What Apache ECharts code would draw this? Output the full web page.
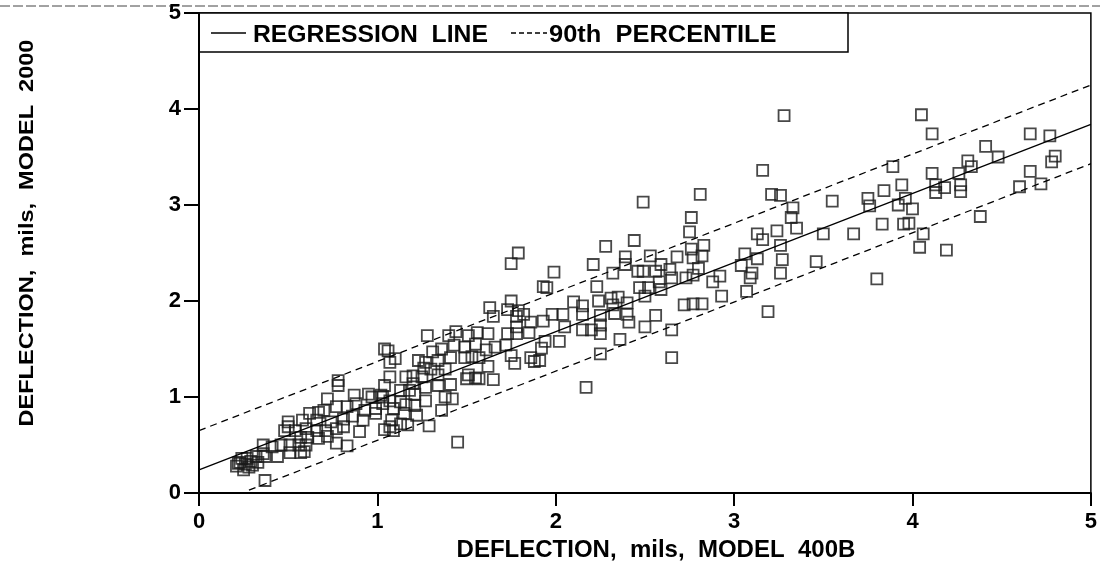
<!DOCTYPE html>
<html>
<head>
<meta charset="utf-8">
<script src="https://cdn.jsdelivr.net/npm/echarts@6/dist/echarts.min.js"></script>
<style>
html,body{margin:0;padding:0;background:#fff;}
#chart{width:1100px;height:569px;}
</style>
</head>
<body>
<div id="chart"></div>
<script>
// Axis ticks
const xTicks = [0, 1, 2, 3, 4, 5];
const yTicks = [0, 1, 2, 3, 4, 5];

// Legend labels
const legendLabels = ['REGRESSION  LINE', '90th  PERCENTILE'];

// Regression line and 90th percentile bounds (endpoints)
const regressionLine = [[0, 0.24], [5, 3.84]];
const upperPercentile = [[0, 0.65], [5, 4.25]];
const lowerPercentile = [[0.28, 0.03], [5, 3.43]];

// Observations: [Model 400B deflection, Model 2000 deflection] (mils)
const points = [
  [4.05,3.94],[4.11,3.74],[4.66,3.74],[4.77,3.72],[4.41,3.61],[4.48,3.50],[4.31,3.46],[4.33,3.40],
  [4.80,3.51],[4.78,3.45],[4.26,3.33],[4.11,3.33],[4.66,3.35],[3.89,3.40],[3.94,3.21],[4.13,3.21],
  [4.18,3.18],[4.13,3.13],[4.27,3.21],[4.27,3.14],[4.60,3.19],[4.72,3.22],[3.84,3.15],[3.96,3.07],
  [3.92,3.00],[4.00,2.96],[3.83,2.80],[3.95,2.80],[3.98,2.81],[4.38,2.88],[4.06,2.70],[4.04,2.56],
  [4.19,2.53],
  [3.28,3.93],[3.16,3.36],[3.21,3.11],[3.26,3.10],[3.33,2.97],[3.32,2.87],[3.35,2.76],[3.55,3.04],
  [3.75,3.07],[3.76,2.99],[3.13,2.70],[3.16,2.64],[3.24,2.73],[3.50,2.70],[3.67,2.70],[3.26,2.58],
  [3.06,2.49],[3.13,2.44],[3.27,2.43],[3.46,2.41],[3.04,2.37],[3.09,2.24],[3.10,2.29],[3.26,2.29],
  [2.92,2.26],[3.07,2.10],[2.93,2.05],[3.19,1.89],[3.80,2.23],
  [2.81,3.11],[2.49,3.03],[2.76,2.87],[2.75,2.72],[2.44,2.63],[2.28,2.57],[2.83,2.58],[2.76,2.54],
  [2.82,2.47],[2.77,2.45],[2.68,2.46],[2.53,2.47],[2.39,2.46],[2.39,2.38],[2.21,2.38],[1.99,2.30],
  [2.32,2.29],[2.46,2.31],[2.49,2.31],[2.56,2.31],[2.59,2.38],[2.64,2.33],[2.65,2.24],[2.58,2.20],
  [2.59,2.12],[2.47,2.14],[2.52,2.14],[2.50,2.05],[2.73,2.24],[2.77,2.27],[2.80,2.34],[2.88,2.20],
  [2.72,1.96],[2.77,1.97],[2.82,1.97],[2.23,2.15],[1.95,2.14],[1.93,2.15],[2.31,2.03],[2.35,2.04],
  [2.40,1.98],[2.24,2.00],[2.15,1.95],[2.10,1.99],[2.32,1.96],[2.33,1.87],[2.40,1.86],[2.41,1.78],
  [2.25,1.85],[2.25,1.75],[2.15,1.86],[2.04,1.86],[1.98,1.86],[1.93,1.79],[2.05,1.73],[2.15,1.70],
  [2.20,1.70],[2.25,1.66],[2.56,1.85],[2.50,1.73],[2.65,1.70],[2.36,1.60],[1.94,1.58],[2.02,1.58],
  [1.92,1.51],[1.91,1.38],[2.25,1.45],[2.65,1.41],[2.17,1.10],
  [1.79,2.50],[1.75,2.39],[1.75,2.00],[1.63,1.93],[1.65,1.84],[1.73,1.91],[1.79,1.90],[1.78,1.84],
  [1.82,1.86],[1.86,1.78],[1.78,1.73],[1.85,1.67],[1.73,1.66],[1.78,1.66],[1.28,1.64],[1.40,1.64],
  [1.44,1.68],[1.51,1.64],[1.56,1.67],[1.62,1.66],[1.31,1.47],[1.36,1.50],[1.43,1.54],[1.49,1.52],
  [1.55,1.55],[1.61,1.49],[1.66,1.52],[1.41,1.41],[1.49,1.41],[1.53,1.42],[1.57,1.41],[1.23,1.38],
  [1.27,1.36],[1.34,1.38],[1.62,1.32],[1.72,1.54],[1.75,1.43],[1.77,1.35],[1.86,1.41],[1.88,1.37],
  [1.26,1.30],[1.30,1.29],[1.38,1.29],[1.20,1.22],[1.25,1.21],[1.34,1.23],[1.51,1.23],[1.55,1.20],
  [1.57,1.19],[1.65,1.18],[1.50,1.19],[1.34,1.12],[1.41,1.13],[1.27,1.10],[1.38,1.00],[1.42,0.98],
  [1.27,0.96],[1.36,0.86],[1.29,0.70],[1.45,0.53],[1.06,1.48],[1.10,1.40],[1.04,1.50],[1.07,1.36],
  [1.07,1.21],[1.16,1.21],[1.20,1.14],[1.04,1.12],[1.13,1.07],[1.18,1.07],[1.21,1.03],[1.03,1.00],
  [1.07,0.96],[1.13,0.95],[1.16,0.92],[1.21,0.91],[1.09,0.88],[1.15,0.83],[1.22,0.81],[1.08,0.76],
  [1.13,0.72],[1.07,0.69],[1.17,0.71],
  [0.78,1.17],[0.78,1.12],[0.72,0.98],[0.77,0.90],[0.70,0.86],[0.83,0.90],[0.87,1.02],[0.95,1.03],
  [0.97,1.00],[1.02,1.02],[0.88,0.93],[0.93,0.86],[0.99,0.88],[1.03,0.93],[0.81,0.77],[0.86,0.80],
  [0.92,0.76],[0.99,0.83],[1.04,0.66],[0.90,0.64],[1.09,0.65],[0.66,0.76],[0.74,0.74],[0.50,0.74],
  [0.58,0.76],[0.48,0.65],[0.54,0.65],[0.60,0.67],[0.66,0.65],[0.71,0.65],[0.77,0.67],[0.81,0.69],
  [0.57,0.58],[0.61,0.58],[0.67,0.57],[0.72,0.59],[0.77,0.52],[0.83,0.49],[0.46,0.50],[0.51,0.50],
  [0.56,0.50],[0.60,0.50],[0.51,0.42],[0.57,0.42],[0.59,0.43],[0.41,0.48],[0.36,0.50],[0.36,0.41],
  [0.44,0.38],[0.32,0.38],[0.27,0.36],[0.23,0.32],[0.30,0.29],[0.25,0.24],[0.22,0.31],[0.37,0.38],
  [0.37,0.13],[0.67,0.84],[0.50,0.69],[0.62,0.83],
  [0.21,0.28],[0.26,0.30],[0.29,0.33],[0.24,0.36],[0.33,0.32],[0.28,0.27]
];

const FONT = 'Liberation Sans, Arial, sans-serif';
const chart = echarts.init(document.getElementById('chart'), null, {renderer: 'canvas'});

const option = {
  backgroundColor: '#ffffff',
  animation: false,
  grid: {
    left: 199, right: 8, top: 13, bottom: 76,
    show: true, borderColor: '#000', borderWidth: 1.5, backgroundColor: 'transparent'
  },
  legend: {show: false},
  xAxis: {
    type: 'value', min: xTicks[0], max: xTicks[xTicks.length - 1], interval: 1,
    name: 'DEFLECTION,  mils,  MODEL  400B',
    nameLocation: 'middle', nameGap: 43,
    nameTextStyle: {fontFamily: FONT, fontSize: 24, fontWeight: 'bold', color: '#000', padding: [0, 0, 0, 22]},
    axisLine: {show: true, onZero: false, lineStyle: {color: '#000', width: 2}},
    axisTick: {show: true, inside: false, length: 13, lineStyle: {color: '#000', width: 2}},
    axisLabel: {fontFamily: FONT, fontSize: 22, fontWeight: 'bold', color: '#000', margin: 18,
      formatter: v => xTicks.indexOf(v) >= 0 ? String(v) : ''},
    splitLine: {show: false}
  },
  yAxis: {
    type: 'value', min: yTicks[0], max: yTicks[yTicks.length - 1], interval: 1,
    axisLine: {show: true, onZero: false, lineStyle: {color: '#000', width: 2}},
    axisTick: {show: true, inside: false, length: 15, lineStyle: {color: '#000', width: 2}},
    axisLabel: {fontFamily: FONT, fontSize: 22, fontWeight: 'bold', color: '#000', margin: 18,
      formatter: v => yTicks.indexOf(v) >= 0 ? String(v) : ''},
    splitLine: {show: false}
  },
  graphic: [
    {
      type: 'text', x: 27, y: 233, rotation: Math.PI / 2, scaleX: 1.12,
      style: {
        text: 'DEFLECTION,  mils,  MODEL  2000',
        font: 'bold 21px ' + FONT, fill: '#000',
        textAlign: 'center', textVerticalAlign: 'middle'
      }
    },
    {
      type: 'line', shape: {x1: 0, y1: 6, x2: 1100, y2: 6},
      style: {stroke: '#444', lineWidth: 1, lineDash: [10, 3]}, silent: true
    },
    {
      type: 'group', z: 100,
      children: [
        {type: 'rect', shape: {x: 199, y: 13, width: 649, height: 39},
          style: {fill: '#fff', stroke: '#000', lineWidth: 1.5}},
        {type: 'line', shape: {x1: 211, y1: 33, x2: 246, y2: 33},
          style: {stroke: '#000', lineWidth: 1.5}},
        {type: 'text', x: 253, y: 35, scaleX: 1.03,
          style: {text: legendLabels[0], font: 'bold 24px ' + FONT, fill: '#000', textVerticalAlign: 'middle'}},
        {type: 'line', shape: {x1: 511, y1: 33, x2: 547, y2: 33},
          style: {stroke: '#000', lineWidth: 1.5, lineDash: [5, 3]}},
        {type: 'text', x: 549, y: 35, scaleX: 1.06,
          style: {text: legendLabels[1], font: 'bold 24px ' + FONT, fill: '#000', textVerticalAlign: 'middle'}}
      ]
    }
  ],
  series: [
    {
      name: 'REGRESSION LINE', type: 'line', data: regressionLine,
      symbol: 'none', lineStyle: {color: '#000', width: 1.3, type: 'solid'},
      itemStyle: {color: '#000'}, z: 3
    },
    {
      name: '90th PERCENTILE', type: 'line', data: upperPercentile,
      symbol: 'none', lineStyle: {color: '#000', width: 1.3, type: [7, 5]},
      itemStyle: {color: '#000'}, z: 3
    },
    {
      name: '90th PERCENTILE', type: 'line', data: lowerPercentile,
      symbol: 'none', lineStyle: {color: '#000', width: 1.3, type: [7, 5]},
      itemStyle: {color: '#000'}, z: 3
    },
    {
      name: 'Observations', type: 'scatter', data: points,
      symbol: 'rect', symbolSize: 11,
      itemStyle: {color: 'rgba(255,255,255,0)', borderColor: '#1a1a1a', borderWidth: 1.8},
      z: 2
    }
  ]
};
chart.setOption(option);
</script>
</body>
</html>
